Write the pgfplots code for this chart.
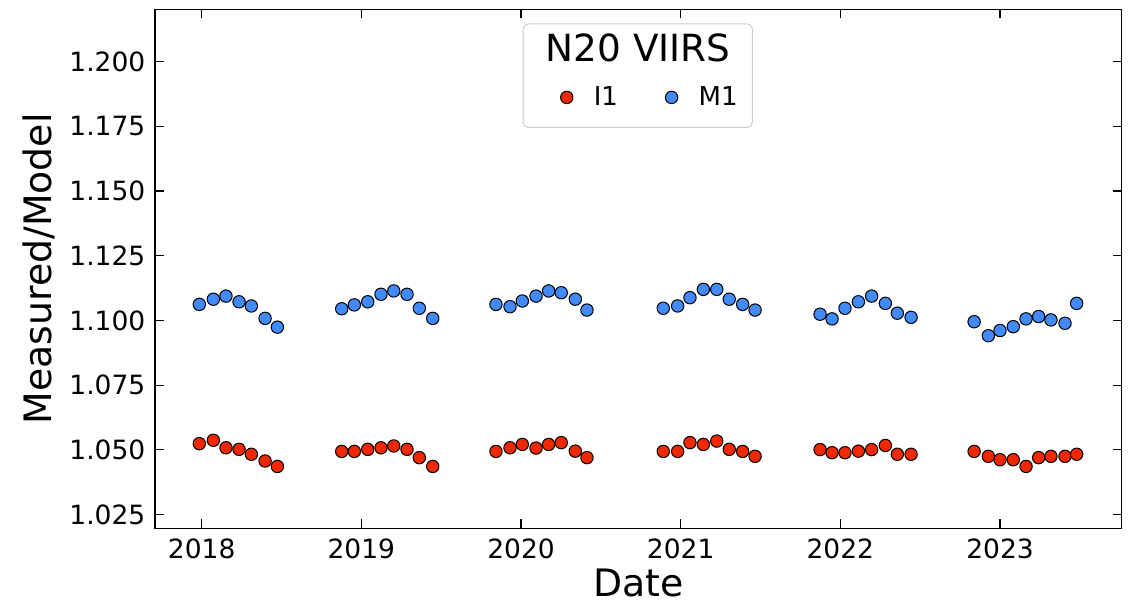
\documentclass[border=0pt]{standalone}
\usepackage{fontspec}
\setmainfont{DejaVu Sans}
\usepackage{pgfplots}
\usepackage{pgfplotstable}
\pgfplotsset{compat=1.18}
\definecolor{redI}{RGB}{240,40,0}
\definecolor{blueM}{RGB}{66,138,250}
\pgfplotstableread{
x m1
2017.985 1.1062
2018.073 1.1082
2018.152 1.1094
2018.234 1.1072
2018.311 1.1056
2018.397 1.1008
2018.474 1.0974
2018.877 1.1045
2018.956 1.1060
2019.040 1.1072
2019.123 1.1101
2019.203 1.1114
2019.286 1.1101
2019.363 1.1047
2019.447 1.1008
2019.843 1.1062
2019.931 1.1053
2020.008 1.1075
2020.094 1.1094
2020.173 1.1114
2020.252 1.1107
2020.340 1.1082
2020.413 1.1040
2020.891 1.1047
2020.981 1.1056
2021.058 1.1088
2021.142 1.1120
2021.226 1.1120
2021.304 1.1082
2021.388 1.1062
2021.466 1.1040
2021.873 1.1024
2021.948 1.1006
2022.029 1.1047
2022.113 1.1072
2022.196 1.1094
2022.282 1.1066
2022.357 1.1028
2022.443 1.1012
2022.838 1.0995
2022.927 1.0941
2023.000 1.0961
2023.083 1.0976
2023.163 1.1006
2023.242 1.1015
2023.319 1.1002
2023.407 1.0989
2023.480 1.1066
}\tableMone
\pgfplotstableread{
x i1
2017.985 1.0524
2018.073 1.0537
2018.152 1.0508
2018.234 1.0502
2018.311 1.0483
2018.397 1.0457
2018.474 1.0436
2018.877 1.0494
2018.956 1.0494
2019.040 1.0502
2019.123 1.0508
2019.203 1.0515
2019.286 1.0502
2019.363 1.0470
2019.447 1.0436
2019.843 1.0494
2019.931 1.0508
2020.008 1.0521
2020.094 1.0507
2020.173 1.0521
2020.252 1.0528
2020.340 1.0495
2020.413 1.0470
2020.891 1.0494
2020.981 1.0494
2021.058 1.0528
2021.142 1.0521
2021.226 1.0534
2021.304 1.0502
2021.388 1.0494
2021.466 1.0475
2021.873 1.0501
2021.948 1.0489
2022.029 1.0489
2022.113 1.0495
2022.196 1.0501
2022.282 1.0517
2022.357 1.0483
2022.443 1.0483
2022.838 1.0494
2022.927 1.0475
2023.000 1.0462
2023.083 1.0462
2023.163 1.0436
2023.242 1.0470
2023.319 1.0475
2023.407 1.0475
2023.480 1.0483
}\tableIone
\begin{document}
\begin{tikzpicture}
\path (0pt,0pt) rectangle (566.5pt,302pt);
\begin{axis}[
  at={(77.5pt,37.85pt)}, anchor=south west,
  scale only axis, width=483.25pt, height=259.5pt,
  xmin=2017.7075, xmax=2023.761, ymin=1.0197, ymax=1.2202,
  xtick={2018,2019,2020,2021,2022,2023},
  ytick={1.025,1.050,1.075,1.100,1.125,1.150,1.175,1.200},
  tick align=inside, tick pos=both,
  major tick length=4.5pt,
  axis line style={line width=0.65pt, black},
  every tick/.style={black, line width=0.6pt},
  /pgf/number format/assume math mode=true,
  xticklabel style={font=\fontsize{13.25pt}{15pt}\selectfont, anchor=north, inner sep=0pt, yshift=-4.85pt,
    /pgf/number format/.cd, 1000 sep={}},
  yticklabel style={font=\fontsize{13.25pt}{15pt}\selectfont, anchor=east, inner sep=0pt, xshift=-4.65pt,
    /pgf/number format/.cd, fixed, fixed zerofill, precision=3},
  xlabel={Date}, ylabel={Measured/Model},
  xlabel style={font=\fontsize{18.9pt}{22pt}\selectfont, at={(axis description cs:0.5,-0.132)}, anchor=base, inner sep=0pt},
  ylabel style={font=\fontsize{18.9pt}{22pt}\selectfont, at={(axis description cs:-0.1066,0.5)}, anchor=base, inner sep=0pt, rotate=0},
  legend columns=2,
  legend style={at={(0.503,0.8302)}, anchor=center, draw=none, fill=none,
    font=\fontsize{13pt}{15pt}\selectfont,
    /tikz/every odd column/.append style={column sep=1pt},
    /tikz/every even column/.append style={column sep=11.8pt}},
  legend image code/.code={%
    \path[draw=none, fill=none] (0pt,-1pt) rectangle (23.5pt,1pt);
    \path[draw=none, fill=none] plot[mark repeat=2, mark phase=2] coordinates {(0pt,0pt) (13pt,0pt) (26pt,0pt)};},
]
\draw[draw=black!20, line width=0.5pt, rounded corners=2.5pt, fill=white]
  (rel axis cs:0.381,0.7726) rectangle (rel axis cs:0.618,0.9717);
\node[anchor=base, font=\fontsize{18.7pt}{22pt}\selectfont, inner sep=0pt] at (rel axis cs:0.5,0.8999) {N20 VIIRS};
\addplot[only marks, mark=*, mark size=3.1pt, mark options={fill=redI, draw=black, line width=0.5pt}] table[x=x, y=i1] {\tableIone};
\addlegendentry{I1}
\addplot[only marks, mark=*, mark size=3.1pt, mark options={fill=blueM, draw=black, line width=0.5pt}] table[x=x, y=m1] {\tableMone};
\addlegendentry{M1}
\end{axis}
\end{tikzpicture}
\end{document}
